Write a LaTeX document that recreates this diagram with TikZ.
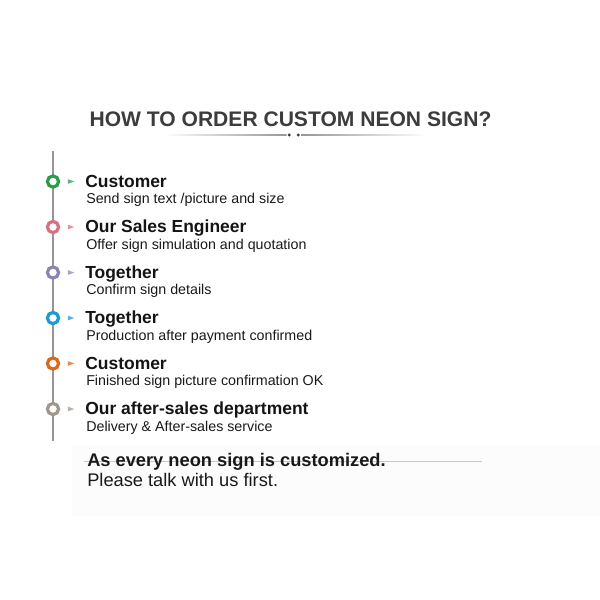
\documentclass[tikz,border=0pt]{standalone}
\usepackage{fontspec}
\setmainfont{Liberation Sans}
\usetikzlibrary{shapes.geometric}
\definecolor{titlegray}{RGB}{60, 60, 60}
\definecolor{linegray}{RGB}{150, 150, 150}
\definecolor{stepgreen}{RGB}{46, 155, 75}
\definecolor{steppink}{RGB}{217, 112, 127}
\definecolor{steplilac}{RGB}{140, 132, 180}
\definecolor{stepcyan}{RGB}{28, 154, 214}
\definecolor{steporange}{RGB}{217, 105, 30}
\definecolor{steptaupe}{RGB}{161, 151, 136}

\begin{document}
\begin{tikzpicture}[
  x=0.75pt, y=-0.75pt,
  ring/.style={circle, draw=#1, fill=white, line width=2.4pt, minimum size=8.4pt, inner sep=0pt},
  pointer/.style={isosceles triangle, isosceles triangle stretches, fill=#1!75, minimum width=3.6pt, minimum height=4.8pt, inner sep=0pt},
  headline/.style={anchor=base west, inner sep=0pt, font=\fontsize{13.1}{15}\selectfont\bfseries, text=black!92},
  subline/.style={anchor=base west, inner sep=0pt, font=\fontsize{10.7}{13}\selectfont, text=black!90},
  dot/.style={circle, fill=titlegray, minimum size=2.4pt, inner sep=0pt}
]
  \useasboundingbox (0, 0) rectangle (600, 600);
  \fill[black!1.2] (72, 446) rectangle (600, 516);

  \node[anchor=base, inner sep=0pt, font=\fontsize{15.8}{18}\selectfont\bfseries, text=titlegray] (title) at (290.5, 126.7) {HOW TO ORDER CUSTOM NEON SIGN?};
  \node[dot] (dotl) at (289.3, 135) {};
  \node[dot] (dotr) at (298.3, 135) {};
  \shade[left color=white, right color=linegray] (163, 134.4) rectangle (286.5, 135.6);
  \shade[left color=linegray, right color=white] (301, 134.4) rectangle (427, 135.6);

  \coordinate (top) at (53, 151);
  \coordinate (bottom) at (53, 441);
  \draw[linegray, line width=1.1pt] (top) -- (bottom);

  \node[ring=stepgreen] (ring1) at (53, 181.5) {};
  \node[pointer=stepgreen] (tip1) at (69.5, 181.5) {};
  \node[headline] (head1) at (85, 187) {Customer};
  \node[subline] (sub1) at (86, 203.7) {Send sign text /picture and size};

  \node[ring=steppink] (ring2) at (53, 227) {};
  \node[pointer=steppink] (tip2) at (69.5, 227) {};
  \node[headline] (head2) at (85, 232.5) {Our Sales Engineer};
  \node[subline] (sub2) at (86, 249.2) {Offer sign simulation and quotation};

  \node[ring=steplilac] (ring3) at (53, 272.5) {};
  \node[pointer=steplilac] (tip3) at (69.5, 272.5) {};
  \node[headline] (head3) at (85, 278) {Together};
  \node[subline] (sub3) at (86, 294.7) {Confirm sign details};

  \node[ring=stepcyan] (ring4) at (53, 318) {};
  \node[pointer=stepcyan] (tip4) at (69.5, 318) {};
  \node[headline] (head4) at (85, 323.5) {Together};
  \node[subline] (sub4) at (86, 340.2) {Production after payment confirmed};

  \node[ring=steporange] (ring5) at (53, 363.5) {};
  \node[pointer=steporange] (tip5) at (69.5, 363.5) {};
  \node[headline] (head5) at (85, 369) {Customer};
  \node[subline] (sub5) at (86, 385.7) {Finished sign picture confirmation OK};

  \node[ring=steptaupe] (ring6) at (53, 409) {};
  \node[pointer=steptaupe] (tip6) at (69.5, 409) {};
  \node[headline] (head6) at (85, 414.5) {Our after-sales department};
  \node[subline] (sub6) at (86, 431.2) {Delivery \& After-sales service};

  \draw[black!22, line width=0.9pt] (84, 461.5) -- (482, 461.5);
  \node[anchor=base west, inner sep=0pt, font=\fontsize{13.7}{16}\selectfont\bfseries, text=black!90] (note) at (87, 466) {As every neon sign is customized.};
  \node[anchor=base west, inner sep=0pt, font=\fontsize{13.7}{16}\selectfont, text=black!90] (ask) at (87, 486.7) {Please talk with us first.};
\end{tikzpicture}
\end{document}
